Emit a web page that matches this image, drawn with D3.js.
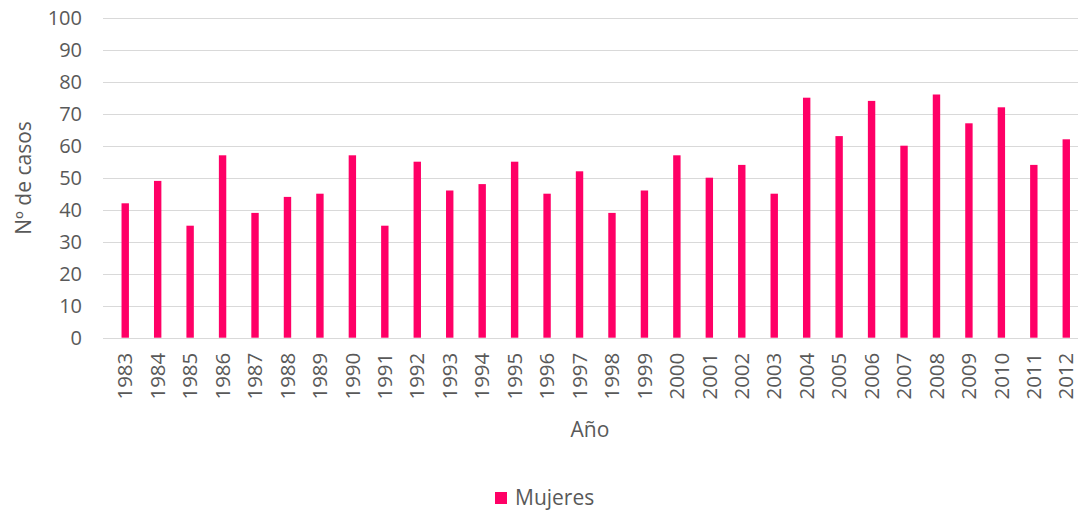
<!DOCTYPE html>
<html>
<head>
<meta charset="utf-8">
<script src="https://cdn.jsdelivr.net/npm/d3@7"></script>
<style>
  body { margin: 0; background: #fff; }
  svg { display: block; font-family: 'Open Sans', sans-serif; }
</style>
</head>
<body>
<svg id="chart"></svg>
<script>
// datos: casos por año (mujeres)
const years = ['1983','1984','1985','1986','1987','1988','1989','1990','1991','1992',
  '1993','1994','1995','1996','1997','1998','1999','2000','2001','2002',
  '2003','2004','2005','2006','2007','2008','2009','2010','2011','2012'];
const mujeres = [42, 49, 35, 57, 39, 44, 45, 57, 35, 55,
  46, 48, 55, 45, 52, 39, 46, 57, 50, 54,
  45, 75, 63, 74, 60, 76, 67, 72, 54, 62];
const yTicks = [0, 10, 20, 30, 40, 50, 60, 70, 80, 90, 100];
const seriesName = 'Mujeres';

const W = 1078, H = 513;
const BAR = '#ff0066', TXT = '#595959', GRID = '#d9d9d9';

const svg = d3.select('#chart').attr('width', W).attr('height', H);

// escalas
const x = d3.scaleBand().domain(years).range([109, 1082.5]);
const y = d3.scaleLinear().domain([0, 100]).range([337.7, 17.7]);
const gridX0 = 103, gridX1 = W;

// rejilla horizontal
svg.append('g').selectAll('line').data(yTicks).join('line')
  .attr('x1', gridX0).attr('x2', gridX1)
  .attr('y1', d => Math.round(y(d)) + 0.5).attr('y2', d => Math.round(y(d)) + 0.5)
  .attr('stroke', GRID).attr('stroke-width', 1);

// eje Y
const yAxis = svg.append('g').attr('transform', 'translate(82,0)')
  .call(d3.axisLeft(y).tickValues(yTicks).tickSize(0).tickPadding(0));
yAxis.select('.domain').remove();
yAxis.selectAll('text').attr('fill', TXT).attr('font-size', 20)
  .attr('font-family', "'Open Sans', sans-serif");

// barras
const bw = 7.4;
svg.append('g').selectAll('rect').data(mujeres).join('rect')
  .attr('x', (d, i) => x(years[i]) + x.bandwidth() / 2 - bw / 2)
  .attr('width', bw)
  .attr('y', d => y(d))
  .attr('height', d => y(0) - y(d))
  .attr('fill', BAR);

// eje X (etiquetas rotadas)
const xAxis = svg.append('g').attr('transform', `translate(0,${y(0)})`)
  .call(d3.axisBottom(x).tickSize(0).tickPadding(0));
xAxis.select('.domain').remove();
xAxis.selectAll('text')
  .attr('fill', TXT).attr('font-size', 20.5)
  .attr('font-family', "'Open Sans', sans-serif")
  .attr('text-anchor', 'end')
  .attr('transform', 'rotate(-90)')
  .attr('x', -15).attr('y', 0).attr('dy', '0.35em');

// títulos de ejes
svg.append('text')
  .attr('x', 590).attr('y', 437)
  .attr('text-anchor', 'middle')
  .attr('fill', TXT).attr('font-size', 21)
  .text('Año');

svg.append('text')
  .attr('transform', 'translate(31,178) rotate(-90)')
  .attr('text-anchor', 'middle')
  .attr('fill', TXT).attr('font-size', 21)
  .text('Nº de casos');

// leyenda
const leg = svg.append('g').attr('transform', 'translate(495,492)');
leg.append('rect').attr('width', 12).attr('height', 12).attr('fill', BAR);
leg.append('text').attr('x', 20).attr('y', 13)
  .attr('fill', TXT).attr('font-size', 21)
  .text(seriesName);
</script>
</body>
</html>
